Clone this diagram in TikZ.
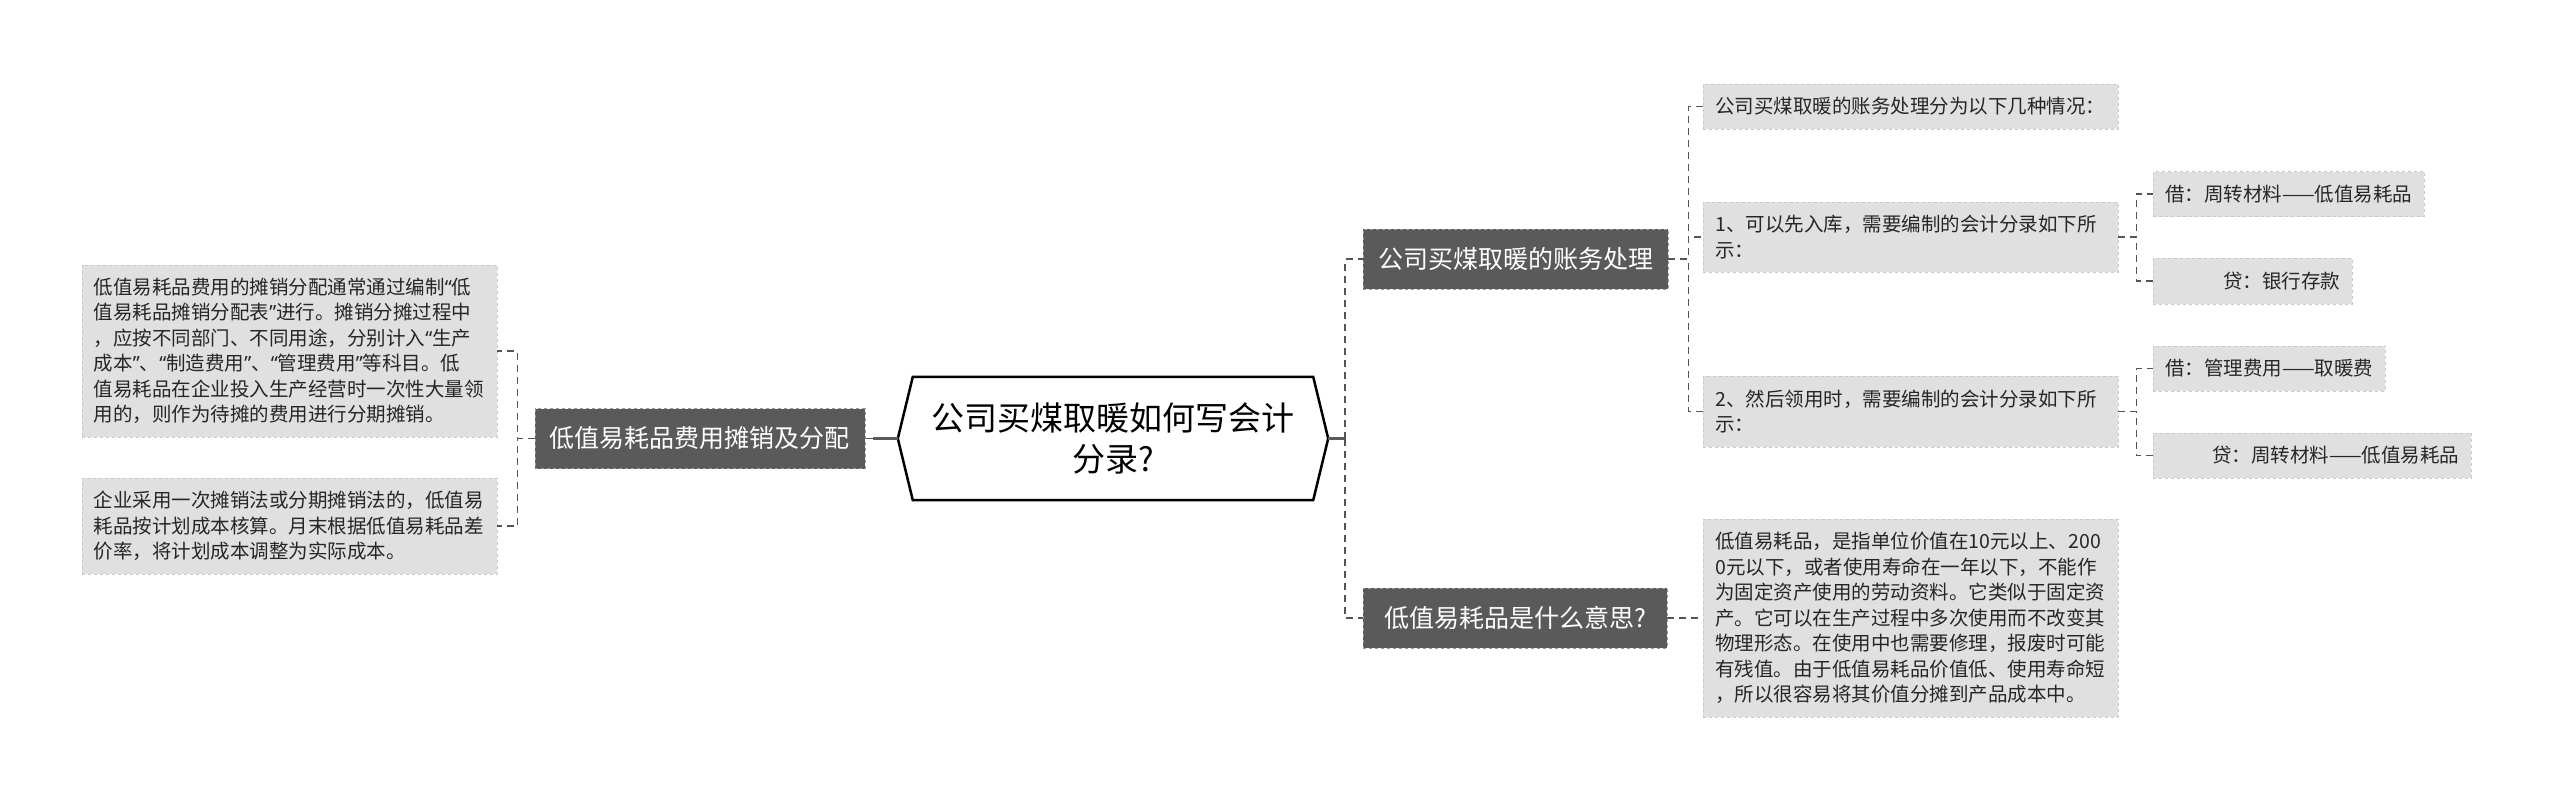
\documentclass[tikz,border=0pt]{standalone}
\usepackage{fontspec}
\setmainfont{Noto Sans CJK SC}
\newfontfamily\westfont{Noto Sans}
\newcommand\openq{{\westfont “}}
\newcommand\closeq{{\westfont ”}}
\definecolor{Slate}{HTML}{5A5A5A}
\definecolor{Ash}{HTML}{E0E0E0}
\definecolor{AshLine}{HTML}{CACACA}
\definecolor{Wire}{HTML}{555555}
\begin{document}
\begin{tikzpicture}[x=1pt,y=-1pt,
hub/.style={minimum width=430pt,minimum height=123pt,align=center,inner sep=0pt,font=\fontsize{33}{41}\selectfont},
topic/.style={fill=Slate,draw=gray!80,dashed,text=white,minimum width=304pt,minimum height=60pt,inner xsep=15pt,font=\fontsize{25}{30}\selectfont},
leaf/.style={fill=Ash,draw=AshLine,dashed,text=black!85,align=left,inner xsep=12pt,inner ysep=0pt,font=\fontsize{19.5}{25.5}\selectfont},
para/.style={leaf,text width=391pt},
trunk/.style={draw=Slate,line width=3pt},
link/.style={draw=Wire,line width=1.6pt,dash pattern=on 7pt off 5pt}]
\useasboundingbox (0,0) rectangle (2560,801);
% centre
\node[hub](hub) at (1113,438.5){公司买煤取暖如何写会计\\分录?};
\draw[black,line width=2.5pt] (hub.west) -- ([xshift=15pt]hub.north west) -- ([xshift=-15pt]hub.north east) -- (hub.east) -- ([xshift=-15pt]hub.south east) -- ([xshift=15pt]hub.south west) -- cycle;
% topics
\node[topic,anchor=east](cost) at (865,438.5){低值易耗品费用摊销及分配};
\node[topic,anchor=west](books) at (1363,259){公司买煤取暖的账务处理};
\node[topic,anchor=west](meaning) at (1363,618){低值易耗品是什么意思?};
% left leaves
\node[para,anchor=east,minimum height=172pt](spread) at (497,351){低值易耗品费用的摊销分配通常通过编制\openq 低\\值易耗品摊销分配表\closeq 进行。摊销分摊过程中\\，应按不同部门、不同用途，分别计入\openq 生产\\成本\closeq 、\openq 制造费用\closeq 、\openq 管理费用\closeq 等科目。低\\值易耗品在企业投入生产经营时一次性大量领\\用的，则作为待摊的费用进行分期摊销。};
\node[para,anchor=east,minimum height=96pt](method) at (497,526){企业采用一次摊销法或分期摊销法的，低值易\\耗品按计划成本核算。月末根据低值易耗品差\\价率，将计划成本调整为实际成本。};
% right leaves
\node[para,anchor=west,minimum height=45pt](cases) at (1703,106.5){公司买煤取暖的账务处理分为以下几种情况：};
\node[para,anchor=west,minimum height=70pt](stock) at (1703,237){1、可以先入库，需要编制的会计分录如下所\\示：};
\node[para,anchor=west,minimum height=71pt](issue) at (1703,411.5){2、然后领用时，需要编制的会计分录如下所\\示：};
\node[para,anchor=west,minimum height=198pt](define) at (1703,618){低值易耗品，是指单位价值在10元以上、200\\0元以下，或者使用寿命在一年以下，不能作\\为固定资产使用的劳动资料。它类似于固定资\\产。它可以在生产过程中多次使用而不改变其\\物理形态。在使用中也需要修理，报废时可能\\有残值。由于低值易耗品价值低、使用寿命短\\，所以很容易将其价值分摊到产品成本中。};
% entries
\node[leaf,anchor=west,minimum height=45pt](debitA) at (2153,194){借：周转材料——低值易耗品};
\node[leaf,anchor=west,minimum height=46pt](creditA) at (2153,281){\hspace*{58pt}贷：银行存款};
\node[leaf,anchor=west,minimum height=45pt](debitB) at (2153,368.5){借：管理费用——取暖费};
\node[leaf,anchor=west,minimum height=45pt](creditB) at (2153,455.5){\hspace*{47pt}贷：周转材料——低值易耗品};
% connectors
\draw[trunk](hub.west)--++(-25,0)coordinate(lfork);\draw[link](lfork)--(cost.east);
\draw[trunk](hub.east)--++(17,0)coordinate(rfork);
\draw[link](rfork)|-(books.west);\draw[link](rfork)|-(meaning.west);
\draw[link](cost.west)--++(-17,0)|-(spread.east);\draw[link](cost.west)--++(-17,0)|-(method.east);
\draw[link](books.east)--++(20,0)|-(cases.west);\draw[link](books.east)--++(20,0)|-(stock.west);\draw[link](books.east)--++(20,0)|-(issue.west);
\draw[link](meaning.east)--(define.west);
\draw[link](stock.east)--++(18,0)|-(debitA.west);\draw[link](stock.east)--++(18,0)|-(creditA.west);
\draw[link](issue.east)--++(18,0)|-(debitB.west);\draw[link](issue.east)--++(18,0)|-(creditB.west);
\end{tikzpicture}
\end{document}
